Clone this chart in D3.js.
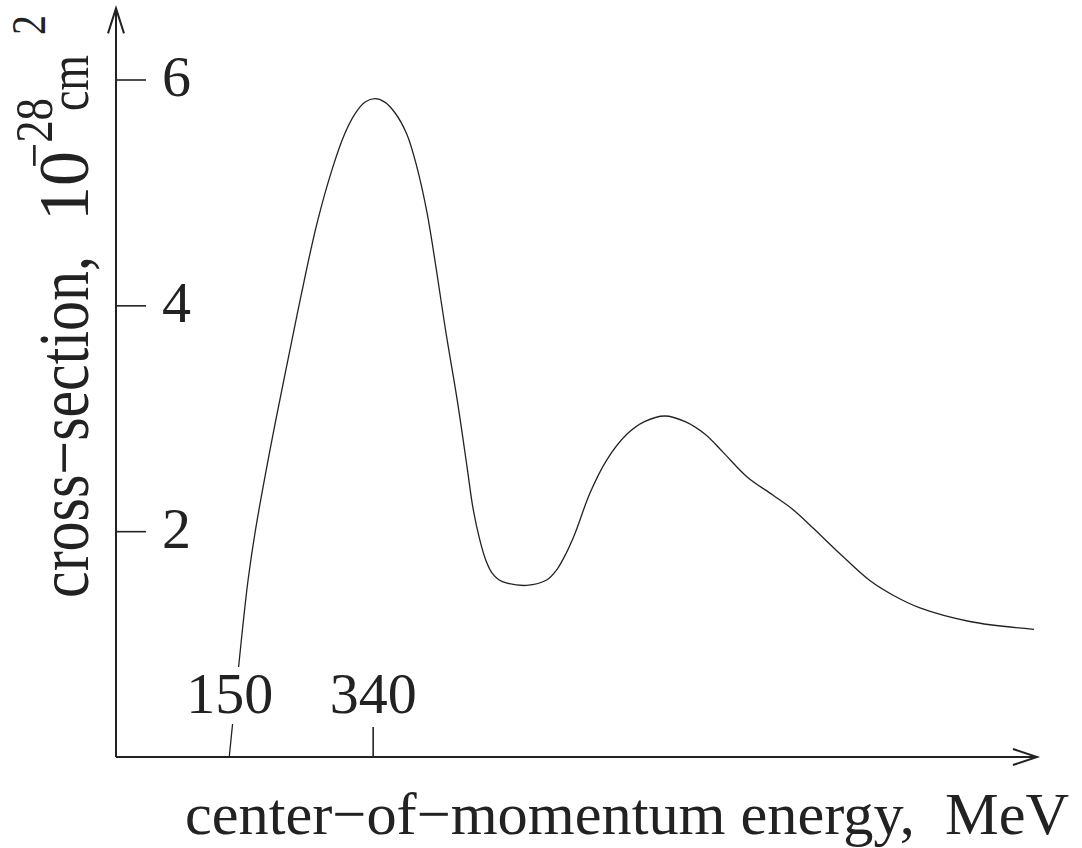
<!DOCTYPE html>
<html>
<head>
<meta charset="utf-8">
<script src="https://cdn.jsdelivr.net/npm/d3@7"></script>
<style>
  body { margin: 0; background: #fff; }
  svg { display: block; }
  text { font-family: "Liberation Serif", "Times New Roman", serif; fill: #222; }
</style>
</head>
<body>
<div id="chart"></div>
<script>
// energy (MeV) and cross-section (10^-28 cm^2)
const energy = [150, 155, 162, 168, 175, 185, 204, 217, 233, 244, 266, 287, 303, 317, 330, 343, 356, 369, 385, 398, 412, 438, 452, 465, 473, 482, 490, 498, 507, 518, 544, 571, 584, 596, 608, 628, 650, 677, 700, 727, 754, 780, 804, 836, 870, 897, 923, 959, 999, 1030, 1065, 1131, 1216];
const sigma  = [0, 0.33, 0.77, 1.16, 1.57, 2.02, 2.72, 3.16, 3.69, 4.05, 4.72, 5.22, 5.52, 5.70, 5.80, 5.83, 5.80, 5.71, 5.52, 5.24, 4.82, 3.72, 3.16, 2.57, 2.20, 1.92, 1.74, 1.63, 1.57, 1.54, 1.52, 1.57, 1.66, 1.80, 1.98, 2.34, 2.63, 2.86, 2.97, 3.02, 2.97, 2.86, 2.70, 2.48, 2.32, 2.19, 2.03, 1.80, 1.56, 1.43, 1.32, 1.20, 1.13];
const yTicks = [2, 4, 6];
const xTicks = [150, 340];
const xLabel = "center\u2212of\u2212momentum energy,  MeV";

const W = 1082, H = 848;
const x = d3.scaleLinear().domain([0, 1220]).range([116, 1037]);
const y = d3.scaleLinear().domain([0, 6]).range([757, 79.5]);

const svg = d3.select("#chart").append("svg")
    .attr("width", W)
    .attr("height", H);

// axes with open arrow heads
const x0 = x(0), y0 = y(0);
const xEnd = x(x.domain()[1]), yEnd = y(6.63);
svg.append("path")
    .attr("d", `M${x0},${y0}V${yEnd}M${x0 - 8},${yEnd + 25}L${x0},${yEnd}L${x0 + 8},${yEnd + 25}`)
    .attr("fill", "none").attr("stroke", "#222").attr("stroke-width", 2);
svg.append("path")
    .attr("d", `M${x0},${y0}H${xEnd}M${xEnd - 24},${y0 - 8}L${xEnd},${y0}L${xEnd - 24},${y0 + 8}`)
    .attr("fill", "none").attr("stroke", "#222").attr("stroke-width", 2);

// y ticks
const yAxis = svg.append("g")
    .attr("transform", `translate(${x0},0)`)
    .call(d3.axisRight(y).tickValues(yTicks).tickSize(30).tickPadding(16).tickFormat(d3.format("d")));
yAxis.select(".domain").remove();
yAxis.selectAll("line").attr("stroke", "#222").attr("stroke-width", 1.6);
yAxis.selectAll("text")
    .attr("font-family", "Liberation Serif, serif")
    .attr("font-size", 58).attr("fill", "#222")
    .attr("dy", "0.28em");

// curve
const pts = energy.map((e, i) => [e, sigma[i]]);
svg.append("path")
    .datum(pts)
    .attr("fill", "none")
    .attr("stroke", "#222")
    .attr("stroke-width", 1.3)
    .attr("d", d3.line().x(d => x(d[0])).y(d => y(d[1])).curve(d3.curveCatmullRom.alpha(0.5)));

// x ticks (the curve itself marks 150)
const xAxis = svg.append("g")
    .attr("transform", `translate(0,${y0})`)
    .call(d3.axisTop(x).tickValues(xTicks).tickSize(30).tickPadding(14).tickFormat(d3.format("d")));
xAxis.select(".domain").remove();
xAxis.selectAll(".tick line").attr("stroke", "#222").attr("stroke-width", 1.6)
    .filter(d => d === 150).remove();
xAxis.selectAll(".tick text")
    .attr("font-family", "Liberation Serif, serif")
    .attr("font-size", 58).attr("fill", "#222");
xAxis.selectAll(".tick").each(function() {
    const t = d3.select(this).select("text");
    const b = t.node().getBBox();
    d3.select(this).insert("rect", "text")
        .attr("x", b.x - 2).attr("y", b.y + 6)
        .attr("width", b.width + 4).attr("height", b.height - 8)
        .attr("fill", "#fff");
});

// axis titles
svg.append("text")
    .attr("x", 185).attr("y", 834)
    .attr("font-size", 60)
    .attr("textLength", 884).attr("lengthAdjust", "spacingAndGlyphs")
    .style("white-space", "pre")
    .text(xLabel);

// y title: glyphs are a bit taller across the line in the reference
const yt = svg.append("text")
    .attr("transform", "translate(88,598) scale(1.2,1) rotate(-90)")
    .attr("font-size", 60);
yt.append("tspan").attr("x", 0).attr("y", 0).text("cross\u2212section,");
yt.append("tspan").attr("x", 377).attr("y", 0)
    .attr("textLength", 70).attr("lengthAdjust", "spacingAndGlyphs").text("10");
yt.append("tspan").attr("x", 430).attr("y", -30).attr("font-size", 44)
    .attr("textLength", 70).attr("lengthAdjust", "spacingAndGlyphs").text("\u221228");
yt.append("tspan").attr("x", 487).attr("y", 0).attr("font-size", 48)
    .attr("textLength", 56).attr("lengthAdjust", "spacingAndGlyphs").text("cm");
yt.append("tspan").attr("x", 563).attr("y", -36).attr("font-size", 40).text("2");
</script>
</body>
</html>
